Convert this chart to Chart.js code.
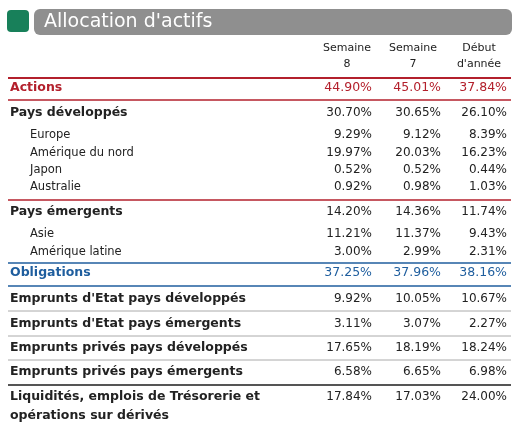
<!DOCTYPE html>
<html><head><meta charset="utf-8">
<script src="https://cdn.jsdelivr.net/npm/chart.js@4"></script>
<style>
body{margin:0;background:#fff;font-family:"DejaVu Sans",Verdana,sans-serif;}
#wrap{position:relative;width:518px;height:435px;}
#chart{position:absolute;left:0;top:0;}
</style></head>
<body><div id="wrap"><canvas id="chart" width="518" height="435"></canvas></div>
<script>
// Data
const title = "Allocation d'actifs";
const columns = [["Semaine","8"],["Semaine","7"],["Début","d'année"]];
const rowLabels = ["Actions","Pays développés","Europe","Amérique du nord","Japon","Australie",
  "Pays émergents","Asie","Amérique latine","Obligations",
  "Emprunts d'Etat pays développés","Emprunts d'Etat pays émergents",
  "Emprunts privés pays développés","Emprunts privés pays émergents",
  "Liquidités, emplois de Trésorerie et\nopérations sur dérivés"];
const week8 = [44.90,30.70,9.29,19.97,0.52,0.92,14.20,11.21,3.00,37.25,9.92,3.11,17.65,6.58,17.84];
const week7 = [45.01,30.65,9.12,20.03,0.52,0.98,14.36,11.37,2.99,37.96,10.05,3.07,18.19,6.65,17.03];
const ytd   = [37.84,26.10,8.39,16.23,0.44,1.03,11.74,9.43,2.31,38.16,10.67,2.27,18.24,6.98,24.00];
const rowKind = ["red","bold","sub","sub","sub","sub","bold","sub","sub","blue","bold","bold","bold","bold","bold"];

// layout
const rowY = [88,113,135,153,170,187,212,234,252,273,299,324,348,372,397];
const colRight = [372,441,507];
const colCenter = [347,413,479];
const lines = [[78,"#b3202c",2],[100,"#b3202c",1.5],[200,"#b3202c",1.5],[263,"#1f5e9e",1.5],[286,"#1f5e9e",1.5],
  [311,"#aaa",1],[336,"#aaa",1],[360,"#aaa",1],[385,"#555",2]];

const tablePlugin = {
  id:'table',
  afterDraw(chart){
    const c = chart.ctx;
    c.save();
    // title bar
    c.fillStyle="#18805a"; c.beginPath(); c.roundRect(7,10,22,22,4); c.fill();
    c.fillStyle="#8f8f8f"; c.beginPath(); c.roundRect(34,9,478,26,6); c.fill();
    c.fillStyle="#fff"; c.font="19px 'DejaVu Sans'"; c.textBaseline="middle"; c.textAlign="left";
    c.fillText(title,44,22);
    // headers
    c.fillStyle="#222"; c.font="11px 'DejaVu Sans'"; c.textAlign="center";
    columns.forEach((h,i)=>{c.fillText(h[0],colCenter[i],48);c.fillText(h[1],colCenter[i],64);});
    lines.forEach(([y,col,w])=>{c.strokeStyle=col;c.lineWidth=w;c.beginPath();c.moveTo(8,y);c.lineTo(511,y);c.stroke();});
    const vals=[week8,week7,ytd];
    rowLabels.forEach((lab,i)=>{
      const k=rowKind[i], y=rowY[i];
      const col = k==="red"?"#b3202c":k==="blue"?"#1f5e9e":"#222";
      c.fillStyle=col;
      c.font=(k==="sub"?"":"bold ")+(k==="sub"?"11.5px":"12.5px")+" 'DejaVu Sans'";
      c.textAlign="left";
      lab.split("\n").forEach((t,j)=>c.fillText(t,k==="sub"?30:10,y+j*19));
      c.font=(k==="red"||k==="blue"?"12.5px":"12px")+" 'DejaVu Sans'";
      c.textAlign="right";
      vals.forEach((v,j)=>c.fillText(v[i].toFixed(2)+"%",colRight[j],y));
    });
    c.restore();
  }
};

new Chart(document.getElementById('chart'),{
  type:'bar',
  data:{labels:rowLabels,datasets:[{data:week8,backgroundColor:'rgba(0,0,0,0)'}]},
  options:{responsive:false,animation:false,
    plugins:{legend:{display:false},tooltip:{enabled:false}},
    scales:{x:{display:false},y:{display:false}}},
  plugins:[tablePlugin]
});
</script></body></html>
